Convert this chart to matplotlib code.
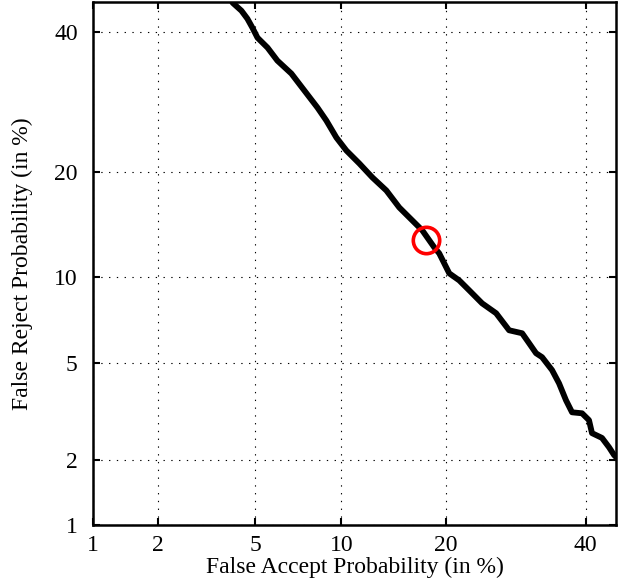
import math
import numpy as np
import matplotlib
matplotlib.use("Agg")
import matplotlib.pyplot as plt

# DET curve (percent)
fa = [4.0, 4.10, 4.44, 4.68, 4.89, 5.11, 5.57, 6.05, 6.79, 7.54, 8.35, 8.94, 9.64,
      10.38, 11.40, 12.49, 13.74, 14.97, 15.97, 17.34, 18.66, 19.23, 20.40, 21.61,
      22.86, 24.54, 26.43, 28.25, 30.13, 31.16, 32.20, 33.11, 34.65, 35.74, 36.84,
      37.80, 39.41, 40.54, 41.03, 42.67, 43.83, 44.66, 45.5]
fr = [46.5, 44.88, 43.55, 42.23, 40.75, 39.13, 37.53, 35.48, 33.47, 30.90, 28.43,
      26.61, 24.32, 22.64, 21.03, 19.38, 17.91, 16.10, 15.10, 13.86, 12.34, 11.83,
      10.25, 9.73, 9.03, 8.17, 7.56, 6.59, 6.43, 5.92, 5.44, 5.26, 4.70, 4.18,
      3.58, 3.20, 3.17, 2.97, 2.62, 2.50, 2.28, 2.11, 2.0]
eer_fa = [17.77]
eer_fr = [12.95]

ticks = [1, 2, 5, 10, 20, 40]
lims = [1, 45]

_erf = np.vectorize(math.erf, otypes=[float])


def cdf_pct(z):
    z = np.asarray(z, dtype=float)
    return 50.0 * (1.0 + _erf(z / math.sqrt(2.0)))


def ppf_pct(p):
    p = np.clip(np.asarray(p, dtype=float), 1e-9, 100 - 1e-9)
    lo = np.full(p.shape, -12.0)
    hi = np.full(p.shape, 12.0)
    for _ in range(60):
        mid = 0.5 * (lo + hi)
        below = cdf_pct(mid) < p
        lo = np.where(below, mid, lo)
        hi = np.where(below, hi, mid)
    return 0.5 * (lo + hi)


plt.rcParams['font.family'] = ['Liberation Serif', 'DejaVu Serif']

fig = plt.figure(figsize=(6.27, 5.83), dpi=100)
ax = fig.add_axes([0.1483, 0.0995, 0.8342, 0.8971])
ax.set_xscale('function', functions=(ppf_pct, cdf_pct))
ax.set_yscale('function', functions=(ppf_pct, cdf_pct))

ax.plot(fa, fr, color='black', lw=4.2, solid_joinstyle='round')
ax.plot(eer_fa, eer_fr, 'o', ms=19, mfc='none', mec='red', mew=2.6)

ax.set_xlim(lims)
ax.set_ylim(lims)
ax.set_xticks(ticks)
ax.set_yticks(ticks)
ax.set_xticklabels([str(t) for t in ticks])
ax.set_yticklabels([str(t) for t in ticks])
ax.minorticks_off()
ax.tick_params(direction='in', top=True, right=True, length=5, width=1.5,
               labelsize=17)
ax.tick_params(axis='x', pad=7)
ax.tick_params(axis='y', pad=11)
for s in ax.spines.values():
    s.set_linewidth(1.8)
ax.grid(True, color='black', linestyle=(0, (1.2, 5.8)), linewidth=0.8)

ax.set_xlabel('False Accept Probability (in %)', fontsize=17, labelpad=1)
ax.set_ylabel('False Reject Probability (in %)', fontsize=17, labelpad=15)

fig.savefig('out.png', dpi=100)
